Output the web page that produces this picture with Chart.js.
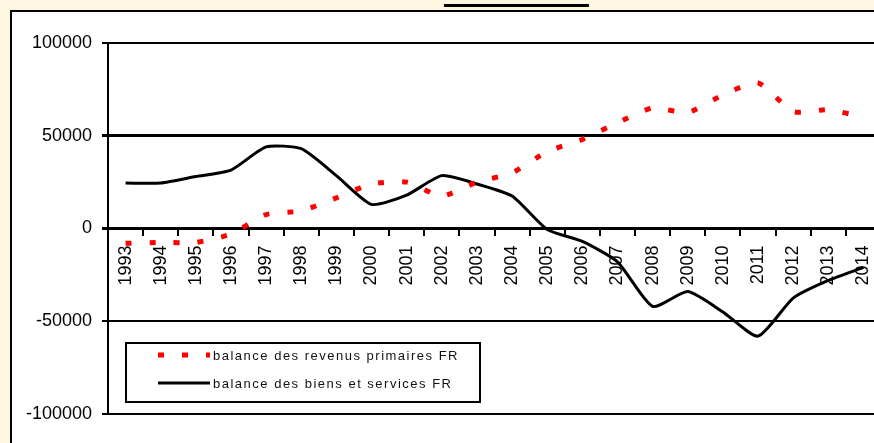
<!DOCTYPE html>
<html>
<head>
<meta charset="utf-8">
<script src="https://cdn.jsdelivr.net/npm/chart.js@4/dist/chart.umd.min.js"></script>
<style>
  html, body { margin: 0; padding: 0; overflow: hidden; background: #FFF6E1; }
  body { width: 874px; height: 443px; position: relative; }
  #frame { position: absolute; left: 10px; top: 10px; width: 1000px; height: 600px;
           border-left: 2px solid #000; border-top: 2px solid #000; background: #fff; }
  #underline { position: absolute; left: 444px; top: 4px; width: 145px; height: 3px; background: #000; }
  #wrap { position: absolute; left: 0; top: 0; width: 900px; height: 443px; }
</style>
</head>
<body>
<div id="underline"></div>
<div id="frame"></div>
<div id="wrap"><canvas id="balanceChart"></canvas></div>
<script>
// years on the x axis
const years = ['1993', '1994', '1995', '1996', '1997', '1998', '1999', '2000', '2001', '2002', '2003',
  '2004', '2005', '2006', '2007', '2008', '2009', '2010', '2011', '2012', '2013', '2014'];

// balance des revenus primaires FR
const revenusPrimaires = [-8000, -7500, -7500, -3000, 7500, 9500, 16500, 24000, 25000, 17500, 25000,
  30000, 41500, 48000, 57000, 65000, 62500, 72000, 78500, 63000, 64000, 60000];

// balance des biens et services FR
const biensServices = [24500, 24500, 28000, 31500, 44000, 43000, 28500, 13000, 18000, 28500, 24000,
  17500, -500, -7000, -18000, -42000, -34000, -45000, -58000, -37500, -28000, -21000];

const yTicks = [100000, 50000, 0, -50000, -100000];

// legend drawn inside the plot, like the original Excel box
const boxLegend = {
  id: 'boxLegend',
  afterDraw(chart) {
    const ctx = chart.ctx;
    const x0 = 126, y0 = 343, w = 354, h = 59;
    ctx.save();
    ctx.fillStyle = '#fff';
    ctx.fillRect(x0, y0, w, h);
    ctx.strokeStyle = '#000';
    ctx.lineWidth = 2;
    ctx.strokeRect(x0, y0, w, h);

    const rows = [355, 383];
    chart.data.datasets.forEach(function(ds, i) {
      const y = rows[i];
      ctx.beginPath();
      ctx.strokeStyle = ds.borderColor;
      ctx.lineWidth = ds.borderWidth;
      ctx.setLineDash(ds.borderDash || []);
      ctx.moveTo(158, y);
      ctx.lineTo(210, y);
      ctx.stroke();
      ctx.setLineDash([]);
      ctx.fillStyle = '#111';
      ctx.font = '13px "Liberation Sans", Arial, sans-serif';
      ctx.letterSpacing = '1.5px';
      ctx.textBaseline = 'middle';
      ctx.fillText(ds.label, 213, y + 1);
    });
    ctx.restore();
  }
};

const ctx = document.getElementById('balanceChart').getContext('2d');
const balanceChart = new Chart(ctx, {
  type: 'line',
  data: {
    labels: years,
    datasets: [{
      label: 'balance des revenus primaires FR',
      data: revenusPrimaires,
      borderColor: '#FF0000',
      borderWidth: 5,
      borderDash: [6, 18],
      borderCapStyle: 'butt',
      pointRadius: 0,
      tension: 0.2,
      fill: false
    }, {
      label: 'balance des biens et services FR',
      data: biensServices,
      borderColor: '#000000',
      borderWidth: 3,
      pointRadius: 0,
      tension: 0.2,
      fill: false
    }]
  },
  options: {
    responsive: true,
    maintainAspectRatio: false,
    animation: false,
    layout: { padding: { left: 0, top: 43, right: 19, bottom: 29 } },
    plugins: {
      legend: { display: false },
      tooltip: { enabled: false }
    },
    scales: {
      x: {
        type: 'category',
        position: { y: 0 },
        offset: true,
        grid: {
          offset: true,
          drawOnChartArea: false,
          drawTicks: true,
          tickLength: 6,
          color: '#000',
          lineWidth: 2
        },
        border: { display: true, color: '#000', width: 3 },
        ticks: {
          color: '#000',
          font: { family: '"Liberation Sans", Arial, sans-serif', size: 18 },
          minRotation: 90,
          maxRotation: 90,
          padding: 11,
          autoSkip: false
        }
      },
      y: {
        min: -100000,
        max: 100000,
        afterBuildTicks: function(scale) {
          scale.ticks = yTicks.map(function(v) { return { value: v }; });
        },
        afterFit: function(scale) { scale.width = 108; },
        grid: {
          color: '#000',
          lineWidth: function(c) {
            return (c.tick && (c.tick.value === 0 || c.tick.value === 50000)) ? 3 : 2;
          },
          drawTicks: true,
          tickLength: 6
        },
        border: { display: true, color: '#000', width: 2 },
        ticks: {
          color: '#000',
          font: { family: '"Liberation Sans", Arial, sans-serif', size: 18 },
          padding: 10,
          callback: function(v) { return String(v); }
        }
      }
    }
  },
  plugins: [boxLegend]
});
</script>
</body>
</html>
